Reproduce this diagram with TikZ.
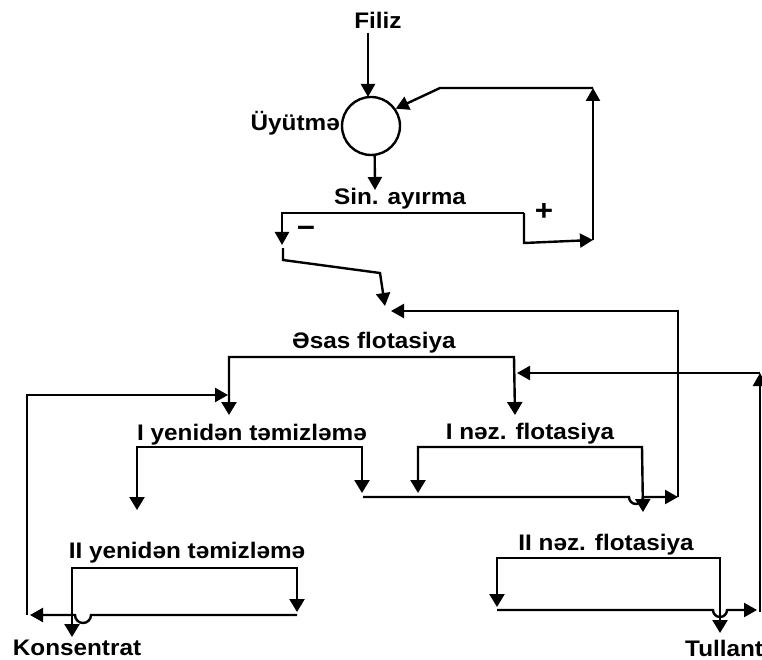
\documentclass[tikz,border=0pt]{standalone}
\usepackage{fontspec}
\newfontfamily\lblfont{Liberation Sans}[FakeStretch=1.08]
\usetikzlibrary{arrows.meta}
\tikzset{
  flow/.style={line width=2.4pt, -{Triangle[length=13pt,width=14pt]}},
  split/.style={line width=2.4pt, {Triangle[length=13pt,width=15pt]}-{Triangle[length=13pt,width=15pt]}},
  plain/.style={line width=2.4pt},
  lbl/.style={font=\lblfont\bfseries\fontsize{22.5}{26}\selectfont, inner sep=0pt},
  sign/.style={font=\lblfont\bfseries\fontsize{29}{32}\selectfont, inner sep=0pt},
}
\begin{document}
\begin{tikzpicture}[x=1pt,y=-1pt]
\useasboundingbox (0,0) rectangle (762,660);

% grinding
\node[lbl] (ore) at (378,20) {Filiz};
\node[draw, circle, line width=2.4pt, minimum size=58pt, inner sep=0pt] (mill) at (371,126) {};
\node[lbl, anchor=east] (grind) at (340,123) {Üyütmə};
\draw[flow] (368,33) -- (368,97);
\draw[flow] (mill.-83) -- (375,190);

% classifier
\node[lbl] (clas) at (400,199) {Sin. ayırma};
\node[sign] (minus) at (306,232) {−};
\node[sign] (plus) at (544,212) {+};
\coordinate (sepL) at (282,213);
\coordinate (sepR) at (524,213);
\coordinate (sand) at (282,245);
\coordinate (recB) at (593,240);
\coordinate (recT) at (593,88);
\draw[flow] (sepR) -- (sepL) -- (sand);
\draw[flow] (sepR) -- (524,243) -- (recB);
\draw[flow] (recB) -- (recT);
\draw[flow] (recT) -- (440,88) -- (mill.35);
\coordinate (feed) at (385,306);
\draw[flow] (283,248) -- (283,260) -- (380,273) -- (feed);

% rougher
\node[lbl] (rough) at (374,343) {Əsas flotasiya};
\draw[split] (229,415) |- (514,357) -- (515,415);

% cleaners and scavengers
\node[lbl] (cl1) at (252,435) {I yenidən təmizləmə};
\draw[split] (137,510) |- (362,447) -- (362,493);
\node[lbl] (sc1) at (530,434) {I nəz. flotasiya};
\draw[split] (418,493) |- (642,447) -- (643,512);
\node[lbl] (cl2) at (187,553) {II yenidən təmizləmə};
\draw[split] (72,637) |- (297,568) -- (297,612);
\node[lbl] (sc2) at (606,545) {II nəz. flotasiya};
\draw[split] (497,607) |- (720,558) -- (720,633);

% recycles
\coordinate (ret1) at (678,497);
\draw[flow] (363,497) -- (629,497) arc[start angle=180, end angle=0, radius=7] -- (ret1);
\draw[flow] (ret1) |- (391,311);
\coordinate (ret2) at (760,612);
\draw[flow] (497,610) -- (713,610) arc[start angle=180, end angle=0, radius=7] -- (757,610);
\draw[flow] (ret2) -- (760,373);
\draw[flow] (760,373) -- (517,373);
\coordinate (ret3) at (27,615);
\draw[flow] (297,615) -- (91,615) arc[start angle=0, end angle=180, radius=8] -- (30,615);
\draw[flow] (ret3) |- (228,395);

% products
\node[lbl] (conc) at (77,648) {Konsentrat};
\node[lbl, anchor=west] (tail) at (685,648) {Tullantı};
\end{tikzpicture}
\end{document}
